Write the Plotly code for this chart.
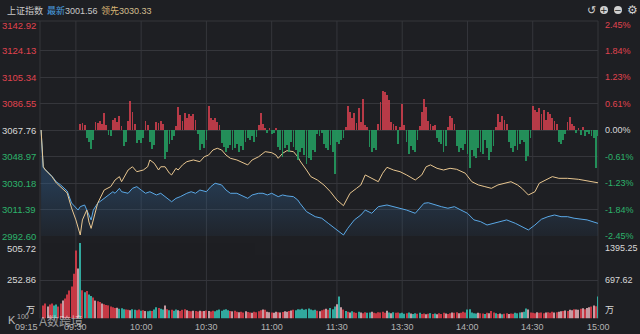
import plotly.graph_objects as go
from decimal import Decimal, ROUND_HALF_UP

# ---------------- data ----------------
PREV_CLOSE = 3067.76
price_levels = [3142.92, 3124.13, 3105.34, 3086.55, 3067.76, 3048.97, 3030.18, 3011.39, 2992.60]
vol_levels_left = [505.72, 252.86]
vol_levels_right = [1395.25, 697.62]

# chart minutes since 09:30 (afternoon continues after 11:30 = 120); 09:15 is the chart start
time_ticks = [-16.5, 0, 30, 60, 90, 120, 150, 180, 210, 240]
time_labels = ["09:15", "09:30", "10:00", "10:30", "11:00", "11:30", "13:30", "14:00", "14:30", "15:00"]

# 领先 (leading index) line
lead_t = [-16, -15, -14, -11, -9, -7, -4, -2, 0, 2,
          3, 5, 6, 7, 10, 13, 16, 18, 20, 21,
          24, 26, 28, 31, 33, 34, 36, 38, 39, 41,
          43, 44, 46, 47, 49, 51, 54, 57, 59, 61,
          63, 65, 67, 69, 71, 74, 77, 79, 81, 84,
          86, 87, 90, 92, 93, 95, 97, 100, 102, 103,
          106, 108, 111, 114, 117, 120, 123, 126, 129, 131,
          133, 136, 139, 141, 143, 146, 149, 152, 156, 159,
          161, 163, 166, 169, 172, 175, 179, 182, 185, 188,
          191, 194, 197, 200, 203, 205, 208, 211, 213, 216,
          219, 222, 226, 231, 235, 240]
lead_v = [3067.76, 3041.7, 3039.4, 3034.7, 3030.2, 3027.4, 3023.1, 3012.5, 3004.0, 2993.3,
          3004.0, 3011.0, 3002.5, 2998.0, 3015.8, 3025.2, 3027.6, 3032.3, 3034.7, 3031.1,
          3039.4, 3041.7, 3038.2, 3039.4, 3041.7, 3046.5, 3044.2, 3039.4, 3041.7, 3041.7,
          3037.1, 3035.9, 3040.6, 3039.4, 3043.0, 3045.3, 3046.5, 3045.3, 3048.8, 3050.0,
          3053.6, 3054.8, 3053.6, 3050.0, 3047.7, 3046.5, 3044.2, 3043.0, 3046.5, 3048.8,
          3051.2, 3052.4, 3051.7, 3050.0, 3047.7, 3051.2, 3053.1, 3052.4, 3048.8, 3045.9,
          3039.4, 3034.7, 3032.3, 3028.8, 3024.0, 3018.1, 3014.1, 3022.9, 3026.4, 3028.8,
          3035.9, 3033.5, 3031.1, 3037.1, 3041.3, 3039.4, 3038.2, 3035.9, 3032.3, 3035.9,
          3041.7, 3043.0, 3040.6, 3039.4, 3040.6, 3039.9, 3037.1, 3031.1, 3028.8, 3027.6,
          3026.4, 3028.8, 3030.0, 3031.1, 3028.8, 3026.4, 3021.7, 3024.0, 3030.0, 3032.3,
          3034.7, 3033.5, 3033.5, 3032.8, 3031.8, 3030.33]

# 最新 (index) line
idx_t = [-16, -15, -14, -11, -9, -7, -4, -2, 1, 2,
         4, 5, 7, 8, 10, 12, 15, 17, 18, 20,
         21, 24, 26, 28, 30, 32, 34, 37, 39, 41,
         44, 46, 48, 51, 53, 55, 57, 60, 62, 64,
         67, 69, 71, 74, 77, 79, 81, 84, 86, 88,
         90, 93, 95, 97, 100, 102, 103, 106, 110, 113,
         116, 119, 123, 125, 128, 131, 133, 136, 139, 143,
         146, 149, 152, 156, 160, 162, 165, 168, 171, 174,
         177, 180, 183, 186, 189, 192, 195, 198, 202, 205,
         208, 211, 214, 217, 220, 223, 226, 229, 232, 235,
         240]
idx_v = [3067.76, 3041.0, 3039.6, 3035.0, 3031.0, 3028.8, 3024.5, 3016.0, 3011.0, 3013.4,
         3014.6, 3011.0, 3004.0, 3011.0, 3015.8, 3018.1, 3021.7, 3024.0, 3022.9, 3026.4,
         3024.0, 3022.9, 3026.4, 3027.6, 3025.2, 3022.9, 3024.0, 3021.7, 3022.9, 3020.5,
         3016.9, 3019.3, 3020.5, 3022.9, 3024.0, 3022.9, 3025.2, 3024.0, 3027.6, 3030.0,
         3028.8, 3025.2, 3022.9, 3022.9, 3020.5, 3019.3, 3021.7, 3022.9, 3022.9, 3021.7,
         3022.9, 3020.5, 3021.7, 3021.0, 3020.5, 3018.1, 3015.8, 3009.9, 3006.3, 3005.2,
         3001.6, 2998.1, 2993.3, 2998.1, 3004.0, 3007.5, 3011.0, 3008.7, 3013.4, 3014.6,
         3013.4, 3012.3, 3011.0, 3008.7, 3015.8, 3016.2, 3014.6, 3013.4, 3012.3, 3013.4,
         3011.0, 3008.7, 3004.0, 3002.8, 3000.4, 3001.6, 3002.8, 3004.0, 3001.6, 2999.2,
         2996.9, 3000.4, 3004.5, 3006.3, 3007.5, 3006.3, 3006.3, 3005.2, 3004.5, 3004.0,
         3001.56]

# red/green strength bars around the previous close (indicator units)
force_t = list(range(1, 241))
force_v = [0, 6, 7, 5, -8, -12, -19, -10, 8, 7,
           9, 6, 17, 5, -5, -6, 10, 12, 8, 14,
           4, -16, -12, 9, 29, 18, 6, -13, -10, -13,
           -8, 9, 5, -12, -19, -15, 8, 7, 9, 6,
           -29, -22, -14, -10, -6, 4, 23, 15, 9, 17,
           12, 16, 14, 16, 10, -4, -20, -14, -18, -10,
           24, 12, 10, 12, 8, 5, -13, -17, -22, -18,
           -15, -20, -18, -14, -22, -16, -20, -12, -8, -10,
           -6, -12, -7, 5, 17, 6, 2, -3, 2, -4,
           -3, 2, -17, -20, -27, -18, -15, -22, -12, -17,
           -20, -30, -22, -18, -25, -34, -28, -30, -20, -22,
           -4, -6, -3, -14, -18, -20, -15, -22, -44, -12,
           -14, -10, -8, 3, 24, 18, 12, 17, 7, 22,
           8, 31, 5, 3, -17, -22, -18, -20, 6, 28,
           39, 38, 35, 30, 8, 6, 4, -14, 3, 26,
           5, -12, -24, -16, -20, -22, -10, 4, 18, 31,
           23, 9, 6, 4, 5, -8, -12, -14, -22, -16,
           3, 14, 12, 6, -16, -22, -18, -20, -14, -24,
           -38, -20, -26, -28, -18, -22, -24, -10, -18, -30,
           -22, -16, 3, 16, 8, 14, 10, 6, -12, -18,
           -22, -16, -20, -14, -10, -12, -31, -26, -8, 24,
           20, 18, 22, 16, 20, 10, 18, 16, 12, 9,
           6, -12, -14, -10, -4, 8, 13, 6, 4, -3,
           2, -5, 3, -6, -2, -4, -6, -8, -38, -6]

# volume (万)
vol_t = list(range(-15, 241))
vol_v = [87, 100, 80, 94, 100, 87, 94, 80, 100, 120,
         134, 160, 188, 214, 300, 455, 335, 505.72, 190, 175,
         185, 160, 150, 140, 120, 115, 110, 100, 95, 90,
         88, 80, 75, 70, 72, 65, 68, 62, 60, 58,
         55, 62, 58, 55, 60, 52, 55, 50, 48, 52,
         50, 60, 75, 70, 65, 60, 87, 62, 55, 58,
         52, 60, 55, 50, 58, 62, 55, 50, 48, 52,
         50, 47, 52, 48, 50, 54, 50, 47, 52, 48,
         55, 60, 52, 58, 62, 55, 50, 48, 52, 45,
         42, 45, 40, 48, 44, 40, 38, 45, 42, 48,
         55, 60, 58, 45, 42, 40, 38, 45, 42, 40,
         44, 48, 45, 50, 54, 58, 55, 62, 60, 65,
         58, 62, 67, 60, 55, 58, 52, 48, 55, 60,
         65, 58, 70, 62, 80, 95, 147, 75, 60, 50,
         45, 40, 48, 42, 38, 45, 40, 35, 42, 38,
         40, 45, 38, 35, 42, 40, 45, 38, 52, 40,
         36, 42, 38, 40, 35, 38, 32, 36, 40, 34,
         30, 35, 32, 38, 30, 34, 28, 32, 36, 30,
         33, 28, 35, 30, 38, 33, 30, 35, 40, 38,
         42, 35, 38, 45, 40, 60, 62, 40, 35, 33,
         38, 35, 33, 30, 38, 35, 50, 40, 35, 30,
         33, 28, 32, 35, 30, 34, 32, 38, 35, 40,
         42, 45, 67, 60, 40, 38, 35, 42, 38, 40,
         36, 40, 42, 38, 45, 40, 42, 45, 48, 50,
         54, 50, 58, 55, 62, 60, 58, 65, 68, 62,
         70, 75, 80, 87, 82, 147]
vol_dir = ("rrwrrttrrwrrrrr" "rwt" "rtrttrwrrwrrrr" "rrwtttrrwttrrtrwttrttr"
           "ttwrtrttwr" "rrwrrwrrwr" "wrwrrttttt" "ttrwrrwrrw" "rrwrrrrwrw"
           "wrwwrwrwwr" "wrtttttttt" "ttrwrrwrtt" "twtwrtrwtr" "rtwrrttwrr"
           "rrrrwtwtrr" "tttrtwttrt" "rrwrtrtwrr" "rwrrwrrwrr" "rtttttwrrt"
           "rwrrtrwtrr" "wrrtttwttw" "rrrwrrrwrr" "rwrwwrwrww" "rwwrwrwwrw" "rt")

# ---------------- styling / layout ----------------
W, H = 640, 334
BG = "#1e1f23"
GRID = "#35363b"
RED = "#e0434f"
GREEN = "#2db36b"
WHITE = "#d8d8d8"
GREYTXT = "#b4b4b4"
FONT = "Liberation Sans, Noto Sans CJK SC, sans-serif"

X_LEFT, X_RIGHT = 40, 598
P_TOP, P_BOT = 21, 236          # price panel pixels
P_REF_TOP = 24                  # pixel of top price level
V_TOP, V_BOT = 243, 318.5       # volume panel pixels
X0, X1 = -16.5, 240


def px(x):
    return x / W


def py(y):
    return 1 - y / H


lo, hi = price_levels[-1], price_levels[0]
price_top = lo + (P_BOT - P_TOP) / (P_BOT - P_REF_TOP) * (hi - lo)
zero_px = P_BOT - (PREV_CLOSE - lo) / (price_top - lo) * (P_BOT - P_TOP)

# percentage scale: top level's change, split in equal steps (half-up rounding like the app)
n_up = price_levels.index(PREV_CLOSE)
pct_top = Decimal(str(round((hi - PREV_CLOSE) / PREV_CLOSE * 100, 2)))


def pct_label(i):
    k = n_up - i
    d = (pct_top * k / n_up)
    sign = "-" if d < 0 else ""
    return sign + str(abs(d).quantize(Decimal("0.01"), rounding=ROUND_HALF_UP)) + "%"


fig = go.Figure()

# blue area + line (最新)
fig.add_trace(go.Scatter(
    x=idx_t, y=idx_v, mode="lines", line=dict(color="#5aa8e6", width=1),
    fill="tozeroy",
    fillgradient=dict(type="vertical", start=lo, stop=3030,
                      colorscale=[[0, "rgba(50,100,150,0.08)"], [1, "rgba(50,100,150,0.38)"]]),
    xaxis="x", yaxis="y", hoverinfo="skip"))

# strength bars
fig.add_trace(go.Bar(
    x=force_t, y=force_v, width=0.38,
    marker=dict(color=[("#d23f4e" if v >= 0 else "#24a263") for v in force_v], line=dict(width=0)),
    opacity=0.85, xaxis="x", yaxis="y3", hoverinfo="skip"))

# yellow line (领先)
fig.add_trace(go.Scatter(
    x=lead_t, y=lead_v, mode="lines", line=dict(color="#e8c690", width=1),
    xaxis="x", yaxis="y", hoverinfo="skip"))

# volume
cmap = {"r": "#cf3a47", "t": "#33b2a6", "w": "#cfa3aa"}
fig.add_trace(go.Bar(
    x=vol_t, y=vol_v, width=0.5,
    marker=dict(color=[cmap[c] for c in vol_dir], line=dict(width=0)),
    opacity=0.95, xaxis="x", yaxis="y2", hoverinfo="skip"))

shapes = []
# vertical grid lines and frame
for t in time_ticks[1:-1]:
    shapes.append(dict(type="line", xref="x", yref="paper", x0=t, x1=t,
                       y0=py(V_BOT), y1=py(P_TOP), line=dict(color=GRID, width=1), layer="below"))
for xp in (X_LEFT, X_RIGHT):
    shapes.append(dict(type="line", xref="paper", yref="paper", x0=px(xp), x1=px(xp),
                       y0=py(V_BOT), y1=py(P_TOP), line=dict(color=GRID, width=1), layer="below"))
shapes.append(dict(type="line", xref="paper", yref="paper", x0=0, x1=px(X_RIGHT),
                   y0=py(P_TOP), y1=py(P_TOP), line=dict(color=GRID, width=1), layer="below"))
# header icons (circles)
for cx in (604, 618):
    shapes.append(dict(type="circle", xref="paper", yref="paper",
                       x0=px(cx - 4), x1=px(cx + 4), y0=py(14), y1=py(6),
                       fillcolor="#d0d0d0", line=dict(width=0)))

ann = []


def txt(x, y, s, color, size=9.5, xanchor="left", xref="paper", yref="paper", yshift=0, family=FONT):
    ann.append(dict(x=x, y=y, xref=xref, yref=yref, text=s, showarrow=False,
                    xanchor=xanchor, yanchor="middle", yshift=yshift,
                    font=dict(family=family, size=size, color=color)))


# price labels (left) and percentage labels (right)
for i, lv in enumerate(price_levels):
    if lv > PREV_CLOSE + 1e-6:
        col = RED
    elif lv < PREV_CLOSE - 1e-6:
        col = GREEN
    else:
        col = WHITE
    sh = -1 if lv == hi else 0
    txt(px(38), lv, f"{lv:.2f}", col, 9.5, "right", yref="y", yshift=sh)
    txt(px(603), lv, pct_label(i), col, 9, "left", yref="y", yshift=sh)

# volume labels
for i, lv in enumerate(vol_levels_left):
    sh = -5 if i == 0 else 1
    txt(px(38), lv, f"{lv:.2f}", WHITE, 9.5, "right", yref="y2", yshift=sh)
    txt(px(603), lv, f"{vol_levels_right[i]:.2f}", WHITE, 9, "left", yref="y2", yshift=sh)
txt(px(37), py(310), "万", WHITE, 9, "right")
txt(px(603), py(310), "万", WHITE, 9, "left")

# time labels
for t, lab in zip(time_ticks, time_labels):
    if t == X0:
        txt(px(X_LEFT), py(327), lab, GREYTXT, 9, "right")
    else:
        txt(t, py(327), lab, GREYTXT, 9, "center", xref="x")

# header
txt(px(5), py(10), "上证指数", "#c8c8c8", 9)
txt(px(45), py(10), f'<span style="color:#4a9fe0">最新</span>{idx_v[-1]:.2f}', "#c8c8c8", 9)
txt(px(99), py(10), f'<span style="color:#d9b574">领先</span>{lead_v[-1]:.2f}', "#d2bd8e", 9)
txt(px(591), py(10), "↺", "#d0d0d0", 11, "center", family="DejaVu Sans")
txt(px(604), py(10), "+", BG, 9, "center", family="DejaVu Sans")
txt(px(618), py(10), "−", BG, 9, "center", family="DejaVu Sans")
txt(px(632), py(10), "⚙", "#d0d0d0", 12, "center", family="DejaVu Sans")

# watermark (overlays the first time labels, as in the original)
txt(px(6), py(320), "K", "rgba(235,235,235,0.75)", 11, "left")
txt(px(15), py(316), "100", "rgba(235,235,235,0.7)", 7, "left")
txt(px(37), py(321), "A数跨境", "rgba(235,235,235,0.6)", 12, "left")

fig.update_layout(
    width=W, height=H, margin=dict(l=0, r=0, t=0, b=0),
    paper_bgcolor=BG, plot_bgcolor=BG, showlegend=False, barmode="overlay",
    font=dict(family=FONT, color=WHITE),
    xaxis=dict(domain=[px(X_LEFT), px(X_RIGHT)], range=[X0, X1], showgrid=False,
               zeroline=False, showticklabels=False, anchor="y2", fixedrange=True),
    yaxis=dict(domain=[py(P_BOT), py(P_TOP)], range=[lo, price_top], tickvals=price_levels[1:],
               showgrid=True, gridcolor=GRID, gridwidth=1, zeroline=False, showticklabels=False),
    yaxis2=dict(domain=[py(V_BOT), py(V_TOP)], range=[0, vol_levels_left[0]], tickvals=vol_levels_left,
                showgrid=True, gridcolor=GRID, gridwidth=1, zeroline=False, showticklabels=False),
    yaxis3=dict(overlaying="y", range=[-(P_BOT - zero_px), zero_px - P_TOP], visible=False),
    shapes=shapes, annotations=ann,
)

fig.write_html("out.html")
